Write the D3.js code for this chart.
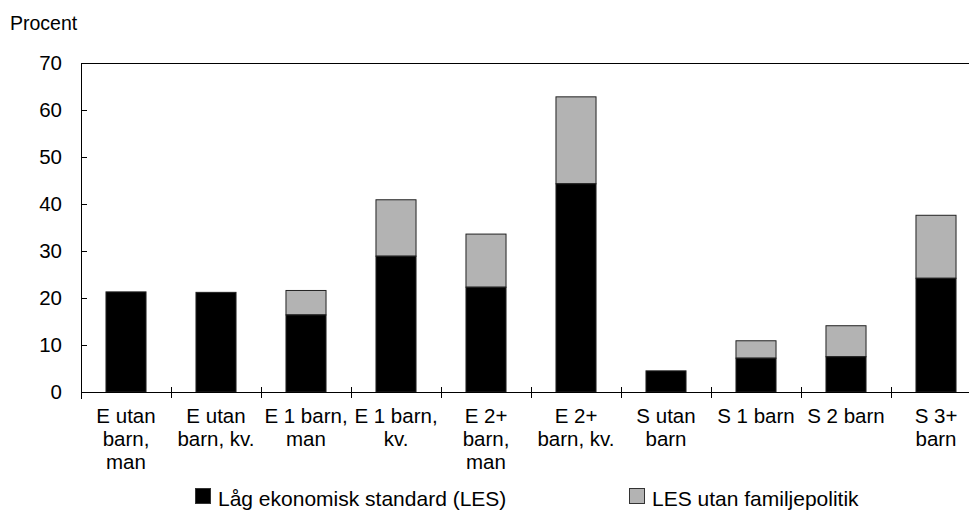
<!DOCTYPE html>
<html><head><meta charset="utf-8">
<script src="https://cdn.jsdelivr.net/npm/d3@7"></script>
<style>body{margin:0;background:#fff}svg{display:block}text{font-family:"Liberation Sans",Arial,sans-serif;fill:#000}</style>
</head><body><svg id="c" width="969" height="510"></svg>
<script>
const categories = ["E utan barn, man","E utan barn, kv.","E 1 barn, man","E 1 barn, kv.","E 2+ barn, man","E 2+ barn, kv.","S utan barn","S 1 barn","S 2 barn","S 3+ barn"];
const labelLines = [["E utan","barn,","man"],["E utan","barn, kv."],["E 1 barn,","man"],["E 1 barn,","kv."],["E 2+","barn,","man"],["E 2+","barn, kv."],["S utan","barn"],["S 1 barn"],["S 2 barn"],["S 3+","barn"]];
const les = [21.3,21.2,16.4,28.9,22.3,44.3,4.5,7.2,7.5,24.2];
const lesUtan = [21.3,21.2,21.6,40.9,33.6,62.8,4.5,10.9,14.1,37.6];
const yTicks = [0,10,20,30,40,50,60,70];
const seriesNames = ["Låg ekonomisk standard (LES)","LES utan familjepolitik"];

(function(){
const svg = d3.select("#c");
const pL = 81, pR = 981, pT = 63, pB = 392;
const x = d3.scaleBand().domain(categories).range([pL,pR]).paddingInner(0.555).paddingOuter(0.2775);
const y = d3.scaleLinear().domain([0,70]).range([pB,pT]);
const step = x.step(), gap = (step - x.bandwidth())/2;

svg.append("text").attr("x",10).attr("y",30).attr("font-size",19.5).text("Procent");

const g = svg.append("g");
categories.forEach((c,i)=>{
  if (lesUtan[i] > les[i]) {
    g.append("rect").attr("x",x(c)).attr("width",x.bandwidth())
      .attr("y",y(lesUtan[i])).attr("height",y(les[i])-y(lesUtan[i]))
      .attr("fill","#b3b3b3").attr("stroke","#222").attr("stroke-width",1);
  }
  g.append("rect").attr("x",x(c)).attr("width",x.bandwidth())
    .attr("y",y(les[i])).attr("height",y(0)-y(les[i]))
    .attr("fill","#000").attr("stroke","#222").attr("stroke-width",1);
});

svg.append("line").attr("x1",pL).attr("x2",pR).attr("y1",pT+0.5).attr("y2",pT+0.5).attr("stroke","#000");
svg.append("line").attr("x1",pL+0.5).attr("x2",pL+0.5).attr("y1",pT).attr("y2",pB+7).attr("stroke","#000");
svg.append("line").attr("x1",pL).attr("x2",pR).attr("y1",pB+0.5).attr("y2",pB+0.5).attr("stroke","#000");

yTicks.forEach(t=>{
  svg.append("line").attr("x1",pL).attr("x2",pL+6).attr("y1",Math.round(y(t))+0.5).attr("y2",Math.round(y(t))+0.5).attr("stroke","#000");
  svg.append("text").attr("x",62).attr("y",y(t)+7).attr("text-anchor","end").attr("font-size",20.5).text(t);
});

categories.forEach((c,i)=>{
  if(i===0) return;
  const bx = Math.round(x(c)-gap)+0.5;
  svg.append("line").attr("x1",bx).attr("x2",bx).attr("y1",pB-5).attr("y2",pB+6).attr("stroke","#000");
});

categories.forEach((c,i)=>{
  const cx = x(c)+x.bandwidth()/2;
  labelLines[i].forEach((ln,j)=>{
    svg.append("text").attr("x",cx).attr("y",423+j*23).attr("text-anchor","middle").attr("font-size",20.5).text(ln);
  });
});

const legend = [{name:seriesNames[0],fill:"#000",x:195},{name:seriesNames[1],fill:"#b3b3b3",x:629}];
legend.forEach(l=>{
  svg.append("rect").attr("x",l.x+0.5).attr("y",488.5).attr("width",15).attr("height",15).attr("fill",l.fill).attr("stroke","#333");
  svg.append("text").attr("x",l.x+23).attr("y",506).attr("font-size",21).text(l.name);
});
})();
</script></body></html>
